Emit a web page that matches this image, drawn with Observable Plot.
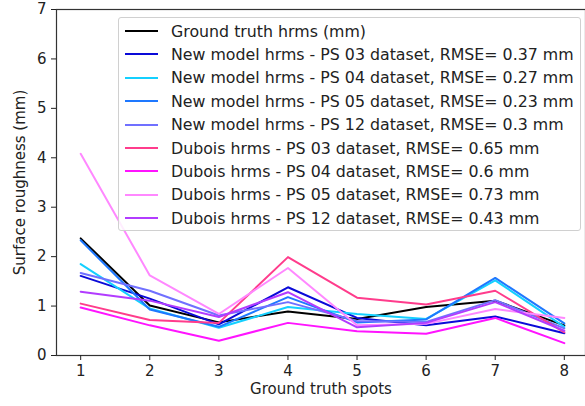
<!DOCTYPE html>
<html>
<head>
<meta charset="utf-8">
<script src="https://cdn.jsdelivr.net/npm/d3@7"></script>
<script src="https://cdn.jsdelivr.net/npm/@observablehq/plot@0.6"></script>
<style>
  html, body { margin: 0; padding: 0; background: #fff; overflow: hidden; }
  #wrap { position: relative; width: 585px; height: 406px; font-family: "DejaVu Sans", sans-serif; }
  #legend { position: absolute; left: 118px; top: 17px; width: 463px; height: 214px; box-sizing: border-box;
            border: 1px solid #d0d0d0; border-radius: 3px; background: rgba(255,255,255,0.85); }
  .item { position: absolute; left: 0; height: 20px; display: flex; align-items: center; font-size: 15.8px; color: #222; white-space: nowrap; }
  .swatch { width: 33px; height: 0; border-top: 2px solid; margin-left: 6px; margin-right: 13px; }
</style>
</head>
<body>
<div id="wrap">
  <div id="chart"></div>
  <div id="legend"></div>
</div>
<script>
const spots = [1, 2, 3, 4, 5, 6, 7, 8];
const seriesNames = [
  "Ground truth hrms (mm)",
  "New model hrms - PS 03 dataset, RMSE= 0.37 mm",
  "New model hrms - PS 04 dataset, RMSE= 0.27 mm",
  "New model hrms - PS 05 dataset, RMSE= 0.23 mm",
  "New model hrms - PS 12 dataset, RMSE= 0.3 mm",
  "Dubois hrms - PS 03 dataset, RMSE= 0.65 mm",
  "Dubois hrms - PS 04 dataset, RMSE= 0.6 mm",
  "Dubois hrms - PS 05 dataset, RMSE= 0.73 mm",
  "Dubois hrms - PS 12 dataset, RMSE= 0.43 mm"
];
const seriesColors = ["#000000", "#0a0ad8", "#14d0ff", "#1e78ff", "#7070ff", "#ff3c8c", "#ff14ff", "#ff88ff", "#b23cff"];

const groundTruth = [2.37, 1.01, 0.67, 0.89, 0.74, 0.98, 1.11, 0.61];
const newPS03     = [1.61, 1.15, 0.63, 1.38, 0.76, 0.61, 0.79, 0.45];
const newPS04     = [1.85, 0.95, 0.56, 0.98, 0.84, 0.74, 1.52, 0.58];
const newPS05     = [2.33, 0.93, 0.58, 1.18, 0.67, 0.73, 1.57, 0.65];
const newPS12     = [1.67, 1.31, 0.81, 1.08, 0.70, 0.68, 1.12, 0.55];
const duboisPS03  = [1.05, 0.72, 0.66, 1.99, 1.17, 1.03, 1.31, 0.47];
const duboisPS04  = [0.97, 0.61, 0.30, 0.66, 0.49, 0.44, 0.76, 0.25];
const duboisPS05  = [4.08, 1.62, 0.84, 1.77, 0.61, 0.64, 0.94, 0.76];
const duboisPS12  = [1.29, 1.11, 0.78, 1.28, 0.57, 0.66, 1.08, 0.50];

const allSeries = [groundTruth, newPS03, newPS04, newPS05, newPS12, duboisPS03, duboisPS04, duboisPS05, duboisPS12];

const yTicks = [0, 1, 2, 3, 4, 5, 6, 7];

const rows = [];
allSeries.forEach((vals, i) => vals.forEach((v, j) => rows.push({series: seriesNames[i], spot: spots[j], value: v})));

const chart = Plot.plot({
  width: 585,
  height: 406,
  marginLeft: 56,
  marginRight: 0,
  marginTop: 9,
  marginBottom: 51,
  style: {fontFamily: "DejaVu Sans, sans-serif", color: "#222", background: "#fff", overflow: "visible"},
  x: {domain: [0.65, 8.35], range: [56, 588]},
  y: {domain: [0, 7], range: [355, 9]},
  color: {domain: seriesNames, range: seriesColors},
  marks: [
    Plot.line(rows, {x: "spot", y: "value", z: "series", stroke: "series", strokeWidth: 2}),
    Plot.frame({stroke: "#333", strokeWidth: 1.2}),
    Plot.axisX({ticks: spots, tickFormat: "d", tickSize: 5, tickPadding: 5, fontSize: 15, label: "Ground truth spots",
                labelAnchor: "center", labelArrow: "none", labelOffset: 38}),
    Plot.axisY({ticks: yTicks, tickFormat: "d", tickSize: 5, tickPadding: 5, fontSize: 15, label: "Surface roughness (mm)",
                labelAnchor: "center", labelArrow: "none", labelOffset: 42})
  ]
});
document.getElementById("chart").appendChild(chart);

const legend = document.getElementById("legend");
seriesNames.forEach((name, i) => {
  const d = document.createElement("div");
  d.className = "item";
  d.style.top = (3 + i * 23.4) + "px";
  const s = document.createElement("span");
  s.className = "swatch";
  s.style.borderTopColor = seriesColors[i];
  const t = document.createElement("span");
  t.textContent = name;
  d.appendChild(s);
  d.appendChild(t);
  legend.appendChild(d);
});
</script>
</body>
</html>
